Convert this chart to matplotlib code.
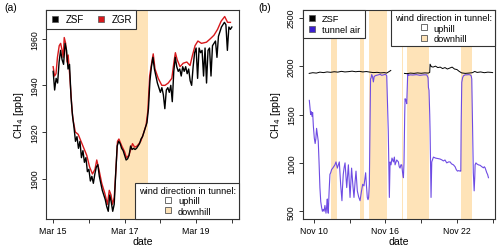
import numpy as np
import matplotlib
matplotlib.use("Agg")
import matplotlib.pyplot as plt
from matplotlib.lines import Line2D

plt.rcParams['font.family'] = ['Liberation Sans', 'DejaVu Sans']

# ---------------- Panel (a) data: x = day of March ----------------
zgr_t = [15.00, 15.04, 15.08, 15.12, 15.17, 15.21, 15.25, 15.28, 15.31, 15.35, 15.39, 15.42,
         15.46, 15.50, 15.53, 15.56, 15.62, 15.70, 15.78, 15.86, 15.94, 16.02, 16.10, 16.17,
         16.22, 16.28, 16.36, 16.44, 16.52, 16.57, 16.62, 16.66, 16.71, 16.76, 16.80, 16.84,
         16.92, 17.00, 17.05, 17.12, 17.18, 17.22, 17.28, 17.35, 17.45, 17.52, 17.60, 17.65,
         17.70, 17.76, 17.80, 17.85, 17.94, 18.04, 18.13, 18.22, 18.32, 18.38, 18.42, 18.47,
         18.55, 18.64, 18.74, 18.83, 18.90, 18.97, 19.05, 19.15, 19.29, 19.40, 19.50, 19.60,
         19.70, 19.80, 19.88, 19.96]
zgr_v = [1948, 1944, 1945, 1952, 1957, 1958, 1955, 1952, 1960.5, 1958, 1950, 1953,
         1945, 1936, 1929, 1925, 1920, 1919, 1916, 1913, 1910, 1905, 1902, 1904,
         1908, 1904, 1898, 1894, 1889, 1895, 1893, 1889, 1892, 1905, 1916, 1917,
         1914, 1911.5, 1909, 1910, 1913, 1915, 1913.5, 1914, 1916, 1919, 1923, 1929,
         1944, 1950, 1953.5, 1947, 1943, 1940, 1940, 1941, 1943, 1950, 1954, 1951,
         1948, 1949.5, 1950, 1948.5, 1953, 1957, 1959, 1958, 1958.5, 1960, 1961.5, 1964,
         1967.5, 1969.5, 1967, 1967]

zsf_start = 15.0      # Mar 15 00:00, hourly values
zsf_v = [1946, 1938, 1943, 1941, 1950, 1955, 1951, 1949, 1958, 1955, 1947, 1949,
         1935, 1927, 1922, 1916, 1918, 1913, 1916, 1909, 1912, 1907, 1909, 1903,
         1904, 1899, 1901, 1898, 1902, 1905, 1906, 1901, 1898, 1895, 1893, 1891,
         1888, 1886, 1893, 1890, 1886, 1889, 1902, 1914, 1916, 1915, 1913, 1912,
         1910, 1908, 1908.5, 1910, 1914, 1912.5, 1913, 1912.5, 1913, 1914, 1915, 1917,
         1918, 1920, 1922, 1924, 1930, 1942, 1948, 1952, 1947, 1944, 1941, 1939,
         1937, 1939, 1936, 1930, 1938, 1939, 1937, 1940, 1933, 1946, 1952, 1948,
         1946, 1947, 1944, 1948, 1946, 1948, 1945, 1947, 1942, 1940, 1948, 1954,
         1956, 1943, 1956, 1954, 1955, 1944, 1956, 1941, 1955, 1956, 1944, 1957,
         1958, 1959, 1952, 1961, 1963, 1965, 1966, 1967, 1966, 1955, 1965, 1964,
         1965]

a_downhill = [(16.87, 17.66)]
a_xticks = [15, 16, 17, 18, 19, 20]
a_xlabels = ['Mar 15', '', 'Mar 17', '', 'Mar 19', '']
a_yticks = [1900, 1920, 1940, 1960]

# ---------------- Panel (b) data: x = day of November ----------------
tun_t = [9.61, 9.66, 9.72, 9.78, 9.84, 9.89, 9.95, 10.03, 10.10, 10.16, 10.22, 10.28,
         10.36, 10.43, 10.50, 10.57, 10.64, 10.71, 10.78, 10.85, 10.92, 11.01, 11.06, 11.12,
         11.16, 11.20, 11.27, 11.34, 11.41, 11.48, 11.60, 11.76, 11.85, 11.96, 12.05, 12.13,
         12.18, 12.24, 12.30, 12.35, 12.40, 12.46, 12.53, 12.61, 12.68, 12.75, 12.82, 12.89,
         12.96, 13.03, 13.10, 13.16, 13.26, 13.36, 13.45, 13.53, 13.58, 13.64, 13.75, 13.87,
         13.98, 14.09, 14.20, 14.27, 14.34, 14.41, 14.48, 14.54, 14.59, 14.65, 14.71, 14.75,
         14.80, 14.85, 14.92, 14.99, 15.05, 15.13, 15.25, 15.41, 15.55, 15.69, 15.85, 15.97,
         16.05, 16.11, 16.18, 16.24, 16.30, 16.33, 16.36, 16.39, 16.47, 16.55, 16.67, 16.75,
         16.81, 16.95, 17.09, 17.16, 17.23, 17.30, 17.37, 17.44, 17.51, 17.56, 17.62, 17.65,
         17.72, 17.79, 17.84, 17.87, 17.95, 18.07, 18.30, 18.60, 18.90, 19.20, 19.47, 19.58,
         19.61, 19.66, 19.72, 19.75, 19.80, 19.83, 19.86, 19.89, 20.03, 20.20, 20.40, 20.59,
         20.75, 20.87, 21.00, 21.15, 21.30, 21.43, 21.55, 21.71, 21.85, 21.95, 22.05, 22.15,
         22.27, 22.33, 22.36, 22.41, 22.48, 22.55, 22.70, 22.83, 22.97, 23.11, 23.20, 23.25,
         23.30, 23.33, 23.38, 23.45, 23.50, 23.53, 23.60, 23.67, 23.80, 23.95, 24.10, 24.23,
         24.30, 24.37, 24.45, 24.51, 24.58, 24.65]
tun_v = [1646, 1580, 1500, 1530, 1480, 1520, 1380, 1255, 1200, 1250, 1357, 1300,
         1224, 1000, 745, 600, 541, 500, 520, 500, 560, 480, 540, 627,
         520, 480, 700, 881, 900, 930, 950, 980, 1010, 946, 980, 1010,
         900, 779, 680, 609, 750, 881, 950, 1000, 870, 745, 860, 980,
         800, 643, 800, 946, 780, 643, 800, 915, 820, 711, 650, 609,
         700, 779, 762, 830, 898, 760, 643, 620, 643, 780, 1400, 1867,
         1880, 1913, 1890, 1837, 1890, 1900, 1905, 1910, 1915, 1905, 1910, 1915,
         1910, 1900, 1600, 1326, 900, 643, 850, 1010, 980, 1050, 1010, 1060,
         980, 1030, 1010, 960, 946, 980, 980, 900, 847, 1000, 1500, 1663,
         1650, 1612, 1800, 1918, 1905, 1910, 1908, 1912, 1905, 1910, 1910, 1880,
         1780, 1750, 1500, 1326, 900, 643, 850, 1010, 1060, 1050, 1045, 1040,
         1030, 1020, 1030, 1000, 1010, 1010, 990, 980, 960, 930, 915, 920,
         915, 915, 1400, 1833, 1880, 1900, 1910, 1910, 1912, 1910, 1900, 1867,
         1500, 1326, 900, 711, 850, 980, 1000, 990, 980, 975, 960, 949,
         960, 949, 920, 898, 880, 847]

zsfb_t = [9.6, 9.9, 10.2, 10.5, 10.8, 11.1, 11.4, 11.7, 12.0, 12.3, 12.6, 12.9, 13.2,
          13.5, 13.8, 14.1, 14.4, 14.7, 15.0, 15.3, 15.6, 15.9, 16.1, 16.3, 16.45, 16.5,
          17.6, 17.8, 18.1, 18.4, 18.7, 19.0, 19.3, 19.6, 19.72, 19.75, 19.85, 20.0, 20.2,
          20.4, 20.6, 20.8, 21.0, 21.2, 21.4, 21.6, 21.8, 22.0, 22.2, 22.4, 22.7, 23.0,
          23.3, 23.5, 23.7, 24.0, 24.3, 24.6, 24.9, 25.0]
zsfb_v = [1925, 1932, 1928, 1938, 1933, 1940, 1936, 1942, 1938, 1946, 1940, 1943, 1948,
          1942, 1946, 1940, 1944, 1938, 1933, 1936, 1930, 1933, 1928, 1943, 1955, np.nan,
          1925, 1922, 1928, 1925, 1930, 1926, 1930, 1928, 1935, 2020, 1995, 1990, 2000,
          1985, 1990, 1975, 1985, 1970, 1980, 1990, 1970, 1965, 1945, 1930, 1925, 1928,
          1932, 1945, 1935, 1940, 1932, 1938, 1935, 1933]

b_downhill = [(11.45, 11.93), (13.87, 14.17), (14.60, 16.10), (16.52, 16.58),
              (17.43, 17.49), (17.84, 19.64), (22.33, 23.25)]
b_xticks = [10, 13, 16, 19, 22, 25]
b_xlabels = ['Nov 10', '', 'Nov 16', '', 'Nov 22', '']
b_yticks = [500, 1000, 1500, 2000, 2500]

# ---------------- style ----------------
SHADE = '#FEE3B8'
FRAME = '#333333'
PURPLE = '#6E4BE3'
PURPLE_DARK = '#3B1FD0'
TICK_FS = 6.3
LAB_FS = 7.6

fig = plt.figure(figsize=(5.0, 2.53), dpi=100)
axa = fig.add_axes([0.092, 0.1304, 0.386, 0.8261])
axb = fig.add_axes([0.606, 0.1304, 0.384, 0.8261])


def style_axis(ax, xticks, xlabels, yticks):
    for s in ax.spines.values():
        s.set_color(FRAME)
        s.set_linewidth(0.8)
    ax.set_xticks(xticks)
    ax.set_xticklabels(xlabels)
    ax.set_yticks(yticks)
    ax.tick_params(axis='both', direction='out', length=3, width=0.7,
                   color=FRAME, labelsize=TICK_FS, pad=2)
    for lab in ax.get_yticklabels():
        lab.set_rotation(90)
        lab.set_va('center')
    ax.set_xlabel('date', fontsize=LAB_FS, labelpad=1)
    ax.set_ylabel('CH$_4$ [ppb]', fontsize=LAB_FS, labelpad=3)


def wind_legend(ax, loc, anchor):
    hs = [Line2D([], [], marker='s', ls='none', markersize=5, markerfacecolor='white',
                 markeredgecolor='#555555', markeredgewidth=0.6),
          Line2D([], [], marker='s', ls='none', markersize=5, markerfacecolor=SHADE,
                 markeredgecolor='#555555', markeredgewidth=0.6)]
    leg = ax.legend(hs, ['uphill', 'downhill'], title='wind direction in tunnel:',
                    loc=loc, bbox_to_anchor=anchor, borderaxespad=0, fancybox=False,
                    framealpha=1, edgecolor=FRAME, fontsize=6.7, title_fontsize=6.7,
                    handlelength=1.0, handletextpad=0.6, labelspacing=0.15,
                    borderpad=0.35)
    leg.get_frame().set_linewidth(0.8)
    return leg


# ---------------- Panel (a) ----------------
for x0, x1 in a_downhill:
    axa.axvspan(x0, x1, color=SHADE, lw=0, zorder=0)
zsf_t = zsf_start + np.arange(len(zsf_v)) / 24.0
axa.plot(zgr_t, zgr_v, color='#D7191C', lw=1.0, zorder=2)
axa.plot(zsf_t, zsf_v, color='black', lw=1.0, zorder=3)
axa.set_xlim(14.8, 20.2)
axa.set_ylim(1882.7, 1972.3)
style_axis(axa, a_xticks, a_xlabels, a_yticks)

h1 = [Line2D([], [], marker='s', ls='none', markersize=5, markerfacecolor='black',
             markeredgecolor='#555555', markeredgewidth=0.5),
      Line2D([], [], marker='s', ls='none', markersize=5, markerfacecolor='#D7191C',
             markeredgecolor='#555555', markeredgewidth=0.5)]
leg1 = axa.legend(h1, ['ZSF', 'ZGR'], loc='upper left', bbox_to_anchor=(0, 1),
                  borderaxespad=0, ncol=2, fancybox=False, framealpha=1, edgecolor=FRAME,
                  fontsize=7, handlelength=1.0, handletextpad=0.6, columnspacing=1.2,
                  borderpad=0.45)
leg1.get_frame().set_linewidth(0.8)
axa.add_artist(leg1)
wind_legend(axa, 'lower right', (1, 0))
fig.text(0.008, 0.968, '(a)', fontsize=7.5, va='center', ha='left')

# ---------------- Panel (b) ----------------
for x0, x1 in b_downhill:
    axb.axvspan(x0, x1, color=SHADE, lw=0, zorder=0)
axb.plot(zsfb_t, zsfb_v, color='black', lw=0.7, zorder=3)
axb.plot(tun_t, tun_v, color=PURPLE, lw=0.8, zorder=2)
axb.set_xlim(9.08, 25.2)
axb.set_ylim(420, 2580)
style_axis(axb, b_xticks, b_xlabels, b_yticks)

h2 = [Line2D([], [], marker='s', ls='none', markersize=5, markerfacecolor='black',
             markeredgecolor='#555555', markeredgewidth=0.5),
      Line2D([], [], marker='s', ls='none', markersize=5, markerfacecolor=PURPLE_DARK,
             markeredgecolor='#555555', markeredgewidth=0.5)]
leg2 = axb.legend(h2, ['ZSF', 'tunnel air'], loc='upper left', bbox_to_anchor=(0, 1),
                  borderaxespad=0, fancybox=False, framealpha=1, edgecolor=FRAME,
                  fontsize=6.7, handlelength=1.0, handletextpad=0.6, labelspacing=0.2,
                  borderpad=0.45)
leg2.get_frame().set_linewidth(0.8)
axb.add_artist(leg2)
wind_legend(axb, 'upper right', (1, 1))
fig.text(0.516, 0.968, '(b)', fontsize=7.5, va='center', ha='left')

fig.savefig('out.png', dpi=100)
